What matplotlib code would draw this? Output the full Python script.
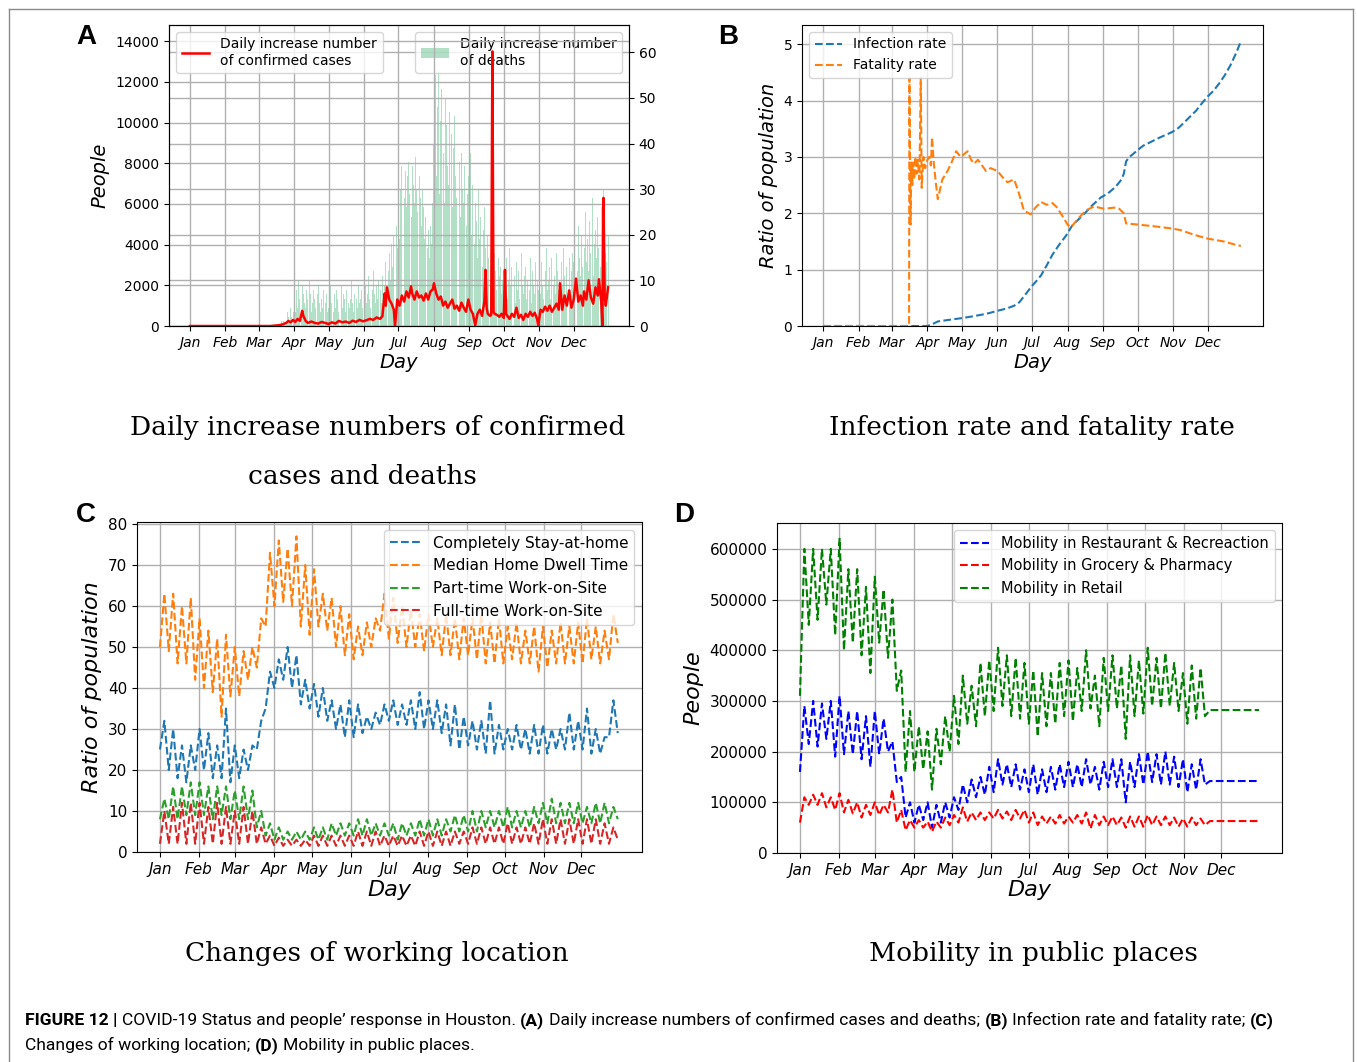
import numpy as np
import matplotlib
matplotlib.use("Agg")
import matplotlib.pyplot as plt
from matplotlib.lines import Line2D

W, H = 1357, 1062

months = ['Jan', 'Feb', 'Mar', 'Apr', 'May', 'Jun', 'Jul', 'Aug', 'Sep', 'Oct', 'Nov', 'Dec']
month_start_days = [0, 31, 60, 91, 121, 152, 182, 213, 244, 274, 305, 335]

# ---------------- Panel A: daily confirmed cases (left axis) ----------------
cases_days = [0, 70, 74, 78, 81, 84, 86, 88, 90, 92,
              94, 96, 98, 99, 101, 103, 106, 109, 112, 115,
              118, 121, 124, 127, 130, 133, 136, 139, 142, 145,
              148, 151, 154, 157, 160, 163, 166, 168, 170, 171,
              172, 174, 176, 178, 179, 181, 183, 185, 187, 189,
              191, 193, 194, 196, 198, 200, 202, 204, 206, 208,
              210, 212, 213, 215, 217, 219, 221, 223, 225, 227,
              229, 231, 233, 235, 237, 239, 241, 243, 245, 247,
              249, 251, 253, 255, 257, 258, 259, 260, 262, 263,
              264, 265, 266, 268, 270, 272, 274, 275, 276, 277,
              279, 281, 283, 285, 287, 289, 291, 293, 295, 297,
              299, 301, 303, 304, 306, 308, 310, 312, 314, 316,
              318, 320, 322, 323, 325, 327, 329, 331, 333, 335,
              337, 339, 341, 343, 344, 346, 348, 350, 352, 354,
              356, 357, 359, 360, 361, 362, 363, 365]
cases_vals = [0, 0, 20, 40, 80, 150, 250, 180, 300, 200,
              350, 250, 750, 500, 250, 150, 220, 150, 120, 200,
              150, 100, 180, 120, 250, 180, 220, 150, 260, 200,
              300, 230, 280, 350, 300, 420, 350, 480, 1600, 1000,
              1900, 1300, 1100, 800, 0, 1300, 1000, 1500, 1200, 1700,
              1400, 1950, 1600, 1300, 1700, 1400, 1500, 1250, 1600, 1300,
              1700, 1800, 2100, 1600, 1300, 1450, 1000, 1200, 900, 1100,
              1300, 850, 1000, 750, 1150, 900, 700, 1300, 800, 600,
              30, 600, 800, 500, 1200, 2760, 900, 600, 500, 550,
              13500, 700, 600, 550, 450, 600, 400, 2760, 600, 500,
              350, 600, 450, 900, 400, 550, 300, 600, 450, 700,
              500, 650, 350, 0, 800, 700, 950, 750, 1000, 700,
              900, 1100, 800, 2100, 800, 1500, 1000, 1750, 900, 1300,
              2330, 1200, 1500, 1000, 1700, 1300, 2250, 1400, 1100, 1900,
              1500, 2300, 1200, 0, 6300, 1500, 1000, 1900]

# Panel A: daily deaths (right axis), one value per day starting Mar 20
deaths_start_day = 79
deaths_mar = [0, 1, 0, 1, 2, 1, 3, 2, 1, 4, 2, 3]
deaths_apr = [5, 3, 8, 4, 10, 6, 3, 9, 7, 5, 4, 8, 6, 10, 7, 3, 5, 8, 6, 4,
              7, 9, 5, 3, 6, 4, 8, 5, 7, 3]
deaths_may = [4, 6, 9, 5, 3, 7, 4, 8, 6, 3, 5, 9, 4, 7, 6, 3, 8, 5, 4, 6,
              10, 5, 3, 7, 6, 4, 9, 5, 6, 8, 4]
deaths_jun = [6, 9, 5, 7, 11, 6, 4, 8, 12, 7, 5, 9, 6, 10, 8, 5, 11, 7, 9, 14,
              8, 12, 16, 10, 18, 13, 20, 15, 22, 17]
deaths_jul = [25, 19, 30, 35, 22, 28, 34, 26, 33, 36, 29, 24, 35, 31, 27, 37, 30, 25, 33, 28,
              22, 30, 26, 19, 24, 17, 21, 15, 22, 18, 27]
deaths_aug = [40, 55, 33, 48, 56, 29, 45, 52, 38, 27, 50, 44, 35, 31, 47, 42, 26, 39, 46, 33,
              28, 41, 36, 24, 38, 30, 27, 35, 22, 29, 33]
deaths_sep = [25, 38, 20, 31, 18, 27, 23, 15, 30, 19, 24, 13, 21, 26, 17, 12, 20, 15, 10, 18,
              14, 9, 16, 12, 8, 15, 11, 13, 7, 10]
deaths_oct = [12, 8, 15, 6, 10, 17, 9, 13, 7, 11, 5, 14, 8, 12, 6, 16, 9, 7, 11, 13,
              6, 10, 8, 15, 5, 12, 9, 7, 14, 10, 8]
deaths_nov = [11, 7, 14, 9, 6, 12, 17, 8, 10, 13, 6, 15, 9, 11, 7, 16, 12, 8, 10, 14,
              9, 17, 11, 7, 13, 10, 15, 8, 12, 16]
deaths_dec = [14, 10, 18, 12, 22, 15, 11, 20, 13, 17, 25, 14, 19, 12, 23, 16, 28, 11, 18, 21,
              15, 24, 17, 13, 26, 19, 30, 22, 16, 14, 20]

# ---------------- Panel B ----------------
infect_days = [0, 91, 95, 100, 110, 121, 130, 138, 145, 152,
               160, 166.5, 171, 176, 181.6, 186, 190, 195, 200, 206,
               211.6, 217, 223, 229, 235, 242, 248, 255, 260, 262,
               264, 267, 270, 274, 279, 287, 294, 304, 310, 315,
               320, 325, 330, 335, 340, 345, 350, 355, 360, 364]
infect_vals = [0, 0, 0.03, 0.08, 0.11, 0.14, 0.17, 0.20, 0.23, 0.27,
               0.31, 0.36, 0.42, 0.55, 0.70, 0.80, 0.90, 1.08, 1.27, 1.45,
               1.60, 1.78, 1.90, 2.02, 2.15, 2.28, 2.35, 2.47, 2.60, 2.70,
               2.92, 3.00, 3.05, 3.12, 3.20, 3.28, 3.35, 3.44, 3.52, 3.62,
               3.72, 3.82, 3.95, 4.07, 4.17, 4.30, 4.45, 4.63, 4.85, 5.05]
fatal_days = [0, 75, 75.3, 76.3, 77, 77.8, 78.6, 79.5, 80.5, 81.5,
              82.5, 84, 85.2, 86, 87.5, 89, 91, 92.5, 94, 95,
              96.5, 98, 100, 104, 108.5, 112, 116, 120, 126, 129,
              131.7, 135, 142, 146, 152, 156, 160.7, 166.5, 170, 175,
              181, 185, 190, 195, 200, 204, 208.6, 213, 216, 222,
              229, 236, 245, 253.6, 258, 262, 264, 274, 288, 304,
              311.6, 323, 335, 349, 358, 364]
fatal_vals = [0, 0, 4.4, 1.8, 2.9, 2.5, 2.9, 2.6, 3.0, 2.7,
              2.95, 2.6, 4.4, 2.45, 3.0, 2.8, 2.95, 3.0, 2.85, 3.35,
              2.9, 2.6, 2.25, 2.6, 2.75, 2.9, 3.1, 3.0, 3.1, 2.95,
              2.88, 2.95, 2.75, 2.8, 2.75, 2.65, 2.55, 2.6, 2.4, 2.05,
              1.98, 2.1, 2.2, 2.15, 2.18, 2.1, 1.95, 1.8, 1.75, 1.9,
              2.05, 2.12, 2.08, 2.1, 2.08, 2.0, 1.82, 1.8, 1.77, 1.73,
              1.7, 1.62, 1.55, 1.5, 1.45, 1.42]

# ---------------- Panel C: weekly low / high readings ----------------
stay_lo = [25, 20, 18, 17, 20, 20, 18, 18, 17, 18, 20, 25, 35, 40, 42, 40, 36, 35, 33, 32,
           30, 28, 28, 29, 30, 31, 32, 31, 31, 30, 30, 30, 29, 26, 25, 26, 25, 24, 24, 25,
           25, 25, 24, 24, 24, 25, 25, 25, 25, 24, 24, 28, 29]
stay_hi = [32, 30, 26, 26, 30, 29, 26, 35, 26, 25, 26, 32, 44, 47, 50, 48, 42, 41, 40, 37,
           36, 37, 36, 33, 34, 36, 37, 36, 37, 39, 37, 37, 36, 36, 33, 32, 32, 37, 31, 30,
           31, 30, 31, 31, 30, 30, 34, 32, 35, 30, 28, 37, 30]
dwell_lo = [50, 49, 46, 46, 42, 40, 39, 33, 38, 38, 42, 45, 55, 60, 61, 60, 55, 53, 55, 54,
            50, 48, 47, 48, 50, 54, 52, 51, 50, 50, 49, 50, 48, 48, 47, 48, 47, 46, 46, 46,
            47, 46, 46, 44, 45, 46, 46, 46, 46, 47, 46, 47, 51]
dwell_hi = [63, 63, 60, 62, 57, 54, 52, 53, 50, 49, 50, 57, 73, 76, 74, 77, 70, 69, 63, 62,
            60, 58, 55, 56, 57, 63, 62, 60, 59, 58, 58, 57, 58, 57, 57, 57, 58, 56, 57, 55,
            56, 54, 55, 55, 54, 56, 55, 56, 57, 55, 54, 58, 53]
part_lo = [8, 8, 8, 9, 9, 9, 8, 9, 8, 8, 8, 6, 4, 3, 3, 3, 3, 3, 3, 3,
           4, 4, 4, 4, 4, 4, 4, 3, 4, 4, 4, 4, 4, 5, 5, 5, 5, 6, 6, 6,
           6, 6, 6, 7, 7, 7, 7, 7, 7, 7, 7, 7, 8]
part_hi = [13, 16, 16, 17, 17, 16, 16, 16, 15, 16, 15, 10, 7, 6, 5, 5, 5, 6, 6, 7,
           7, 7, 8, 8, 7, 7, 7, 7, 7, 8, 8, 8, 8, 9, 9, 10, 10, 10, 10, 11,
           10, 10, 11, 12, 13, 12, 12, 12, 11, 12, 12, 11, 9]
full_lo = [2, 2, 2, 2, 2, 2, 2, 2, 2, 2, 2, 2, 2, 1.5, 1.5, 1.5, 1.5, 1.5, 1.5, 1.5,
           1.5, 1.5, 1.5, 1.5, 1.5, 1.5, 1.5, 1.5, 1.5, 1.5, 1.5, 1.5, 1.5, 1.5, 2, 2, 2, 2, 2, 2,
           2, 2, 2, 2, 2, 2, 2, 2, 2, 2, 2, 2, 3]
full_hi = [10, 11, 12, 12, 12, 11, 12, 11, 10, 11, 10, 6, 4, 3.5, 3, 3, 3, 4, 4, 4,
           4, 4, 5, 5, 5, 4, 4, 4, 4, 5, 5, 5, 5, 5, 5, 6, 6, 6, 6, 7,
           6, 6, 7, 8, 8, 8, 8, 8, 8, 8, 7, 6, 5]

# ---------------- Panel D: weekly low / high readings (thousand people) ----------------
retail_lo = [310, 450, 460, 490, 430, 400, 415, 390, 355, 415, 385, 320, 160, 160, 165, 125, 175, 200, 215, 255,
             250, 270, 280, 290, 270, 265, 255, 230, 250, 255, 270, 260, 280, 285, 250, 280, 285, 225, 270, 275,
             290, 285, 290, 280, 255, 265, 270]
retail_hi = [600, 600, 600, 600, 620, 560, 560, 525, 545, 520, 500, 360, 280, 250, 240, 245, 270, 310, 350, 330,
             375, 380, 405, 390, 385, 375, 360, 355, 355, 375, 380, 365, 400, 350, 385, 390, 370, 390, 380, 405,
             385, 395, 375, 355, 370, 365, 360]
rest_lo = [160, 215, 210, 225, 190, 195, 195, 185, 170, 195, 200, 140, 70, 60, 65, 50, 60, 70, 85, 100,
           110, 115, 120, 135, 130, 125, 120, 115, 120, 125, 130, 130, 130, 135, 125, 130, 130, 100, 130, 135,
           140, 135, 135, 130, 120, 125, 135]
rest_hi = [290, 300, 295, 300, 310, 280, 280, 270, 280, 265, 220, 150, 100, 95, 100, 95, 100, 110, 135, 145,
           150, 170, 185, 175, 175, 165, 175, 165, 170, 175, 180, 175, 185, 170, 180, 185, 185, 180, 195, 200,
           195, 200, 190, 185, 175, 185, 180]
groc_lo = [60, 95, 95, 90, 85, 80, 78, 70, 75, 75, 80, 60, 45, 50, 50, 42, 50, 55, 60, 62,
           65, 65, 68, 68, 65, 68, 60, 55, 58, 58, 58, 60, 58, 48, 55, 55, 55, 50, 52, 52,
           55, 55, 55, 52, 52, 55, 55]
groc_hi = [110, 115, 118, 110, 118, 105, 100, 95, 100, 95, 125, 85, 65, 65, 62, 62, 70, 75, 90, 80,
           80, 80, 85, 82, 85, 85, 80, 72, 72, 75, 72, 75, 80, 75, 72, 72, 70, 72, 72, 75,
           72, 72, 70, 68, 70, 68, 68]
tail_days = [326, 365]
retail_tail = 282
rest_tail = 142
groc_tail = 63


def weekly(lo, hi, last_day=365, scale=1.0):
    xs, ys = [], []
    for w, (l, h) in enumerate(zip(lo, hi)):
        for d, v in ((7 * w, l), (7 * w + 3.5, h)):
            if d <= last_day:
                xs.append(d)
                ys.append(v * scale)
    return xs, ys


fig = plt.figure(figsize=(W / 100, H / 100), dpi=100)
fig.patch.set_facecolor('white')


def add_ax(l, r, t, b):
    return fig.add_axes([l / W, 1 - b / H, (r - l) / W, (b - t) / H])


GRID = dict(color='#b0b0b0', linewidth=1.0)


def style_axes(ax, tick_fs, label_fs, ylabel):
    ax.set_xlim(-18.25, 383.25)
    ax.set_xticks(month_start_days)
    ax.set_xticklabels(months, fontstyle='italic', fontsize=tick_fs)
    ax.tick_params(axis='y', labelsize=tick_fs)
    ax.grid(True, **GRID)
    ax.set_xlabel('Day', fontstyle='italic', fontsize=label_fs, labelpad=2)
    ax.set_ylabel(ylabel, fontstyle='italic', fontsize=label_fs, labelpad=4)


# ---------- Panel A ----------
axA = add_ax(169, 629, 25, 326)
axA2 = axA.twinx()
deaths_vals = (deaths_mar + deaths_apr + deaths_may + deaths_jun + deaths_jul + deaths_aug
               + deaths_sep + deaths_oct + deaths_nov + deaths_dec)
deaths_days = np.arange(deaths_start_day, deaths_start_day + len(deaths_vals))
axA2.bar(deaths_days, deaths_vals, width=0.85, color='#3cb371', alpha=0.4, linewidth=0,
         label='Daily increase number\nof deaths')
axA2.set_ylim(0, 66)
axA2.set_yticks([0, 10, 20, 30, 40, 50, 60])
axA2.tick_params(axis='y', labelsize=10)
axA2.grid(True, **GRID)
axA.plot(cases_days, cases_vals, color='red', linewidth=1.8,
         label='Daily increase number\nof confirmed cases')
axA.set_ylim(0, 14800)
axA.set_yticks(range(0, 14001, 2000))
style_axes(axA, 10, 14, 'People')
axA.set_zorder(axA2.get_zorder() + 1)
axA.patch.set_visible(False)
axA.legend(loc='upper left', fontsize=10)
axA2.legend(loc='upper right', fontsize=10)

# ---------- Panel B ----------
axB = add_ax(802, 1263, 25, 326)
axB.plot(infect_days, infect_vals, '--', color='#1f77b4', linewidth=1.5, label='Infection rate')
axB.plot(fatal_days, fatal_vals, '--', color='#ff7f0e', linewidth=1.5, label='Fatality rate')
axB.set_ylim(0, 5.34)
axB.set_yticks([0, 1, 2, 3, 4, 5])
style_axes(axB, 10, 14, 'Ratio of population')
axB.legend(loc='upper left', fontsize=10)

# ---------- Panel C ----------
axC = add_ax(137, 642, 522, 852)
for lo, hi, col, lab in ((stay_lo, stay_hi, '#1f77b4', 'Completely Stay-at-home'),
                         (dwell_lo, dwell_hi, '#ff7f0e', 'Median Home Dwell Time'),
                         (part_lo, part_hi, '#2ca02c', 'Part-time Work-on-Site'),
                         (full_lo, full_hi, '#d62728', 'Full-time Work-on-Site')):
    xs, ys = weekly(lo, hi)
    axC.plot(xs, ys, '--', color=col, linewidth=1.5, label=lab)
axC.set_ylim(0, 80.5)
axC.set_yticks(range(0, 81, 10))
style_axes(axC, 11, 16, 'Ratio of population')
axC.legend(loc='upper right', fontsize=11)

# ---------- Panel D ----------
axD = add_ax(777, 1282, 523, 853)
for lo, hi, tail, col, lab in ((rest_lo, rest_hi, rest_tail, 'blue', 'Mobility in Restaurant & Recreaction'),
                               (groc_lo, groc_hi, groc_tail, 'red', 'Mobility in Grocery & Pharmacy'),
                               (retail_lo, retail_hi, retail_tail, 'green', 'Mobility in Retail')):
    xs, ys = weekly(lo, hi, last_day=tail_days[0] - 1, scale=1000)
    xs = xs + tail_days
    ys = ys + [tail * 1000] * len(tail_days)
    axD.plot(xs, ys, '--', color=col, linewidth=1.5, label=lab)
axD.set_ylim(0, 651000)
axD.set_yticks(range(0, 600001, 100000))
style_axes(axD, 11, 16, 'People')
axD.legend(loc='upper right', fontsize=10.5)

# ---------- Panel letters ----------
for letter, (px, py) in (('A', (86, 37)), ('B', (728, 37)), ('C', (86, 515)), ('D', (684, 515))):
    fig.text(px / W, 1 - py / H, letter, fontsize=20, fontweight='bold',
             family=['Liberation Sans', 'DejaVu Sans'], ha='center', va='center')

# ---------- Sub titles ----------
serif = ['DejaVu Serif']
for s, (px, py) in (('Daily increase numbers of confirmed', (378, 428)),
                    ('cases and deaths', (362, 476)),
                    ('Infection rate and fatality rate', (1032, 428)),
                    ('Changes of working location', (377, 954)),
                    ('Mobility in public places', (1033, 954))):
    fig.text(px / W, 1 - py / H, s, fontsize=19, family=serif, ha='center', va='center')

# ---------- Frame ----------
for xs_, ys_ in (([9, 1353], [9, 9]), ([9, 9], [9, 1062]), ([1353, 1353], [9, 1062])):
    fig.add_artist(Line2D([x / W for x in xs_], [1 - y / H for y in ys_],
                          color='#8a8a8a', linewidth=1.0))

# ---------- Caption ----------
cap_family = ['Roboto', 'Liberation Sans', 'DejaVu Sans']
renderer = fig.canvas.get_renderer()

line1 = [('FIGURE 12 |', True),
         ('COVID-19 Status and people\u2019 response in Houston.', False),
         ('(A)', True), ('Daily increase numbers of confirmed cases and deaths;', False),
         ('(B)', True), ('Infection rate and fatality rate;', False), ('(C)', True)]
line2 = [('Changes of working location;', False), ('(D)', True),
         ('Mobility in public places.', False)]


def text_width(s, bold, size):
    t = fig.text(0, 0, s, fontsize=size, family=cap_family,
                 fontweight='bold' if bold else 'normal')
    w = t.get_window_extent(renderer).width
    t.remove()
    return w


def line_width(pieces, size):
    sp = text_width('x x', False, size) - text_width('xx', False, size)
    return sum(text_width(s, b, size) for s, b in pieces) + sp * (len(pieces) - 1)


cap_size = 14.0
cap_size = cap_size * 1255.0 / line_width(line1, cap_size)
space_w = text_width('x x', False, cap_size) - text_width('xx', False, cap_size)


def caption_line(pieces, x_px, y_px):
    x = x_px
    for s, bold in pieces:
        t = fig.text(x / W, 1 - y_px / H, s, fontsize=cap_size, family=cap_family,
                     fontweight='bold' if bold else 'normal', ha='left', va='baseline')
        x = t.get_window_extent(renderer).x1 + space_w


caption_line(line1, 25, 1025)
caption_line(line2, 25, 1050)

fig.savefig('out.png', dpi=100, facecolor='white')
